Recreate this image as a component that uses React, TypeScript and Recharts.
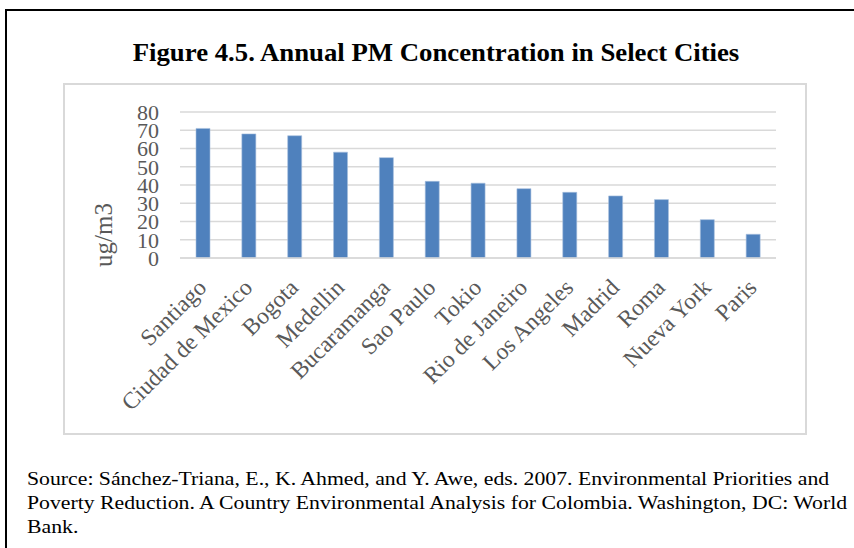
import React from 'react';
import { BarChart, Bar, XAxis, YAxis, CartesianGrid, Label } from 'recharts';

const cities = [
  'Santiago',
  'Ciudad de Mexico',
  'Bogota',
  'Medellin',
  'Bucaramanga',
  'Sao Paulo',
  'Tokio',
  'Rio de Janeiro',
  'Los Angeles',
  'Madrid',
  'Roma',
  'Nueva York',
  'Paris',
];
const pmValues = [71, 68, 67, 58, 55, 42, 41, 38, 36, 34, 32, 21, 13];
const yTicks = [0, 10, 20, 30, 40, 50, 60, 70, 80];

const title = 'Figure 4.5. Annual PM Concentration in Select Cities';
const sourceLines = [
  'Source: Sánchez-Triana, E., K. Ahmed, and Y. Awe, eds. 2007. Environmental Priorities and',
  'Poverty Reduction. A Country Environmental Analysis for Colombia. Washington, DC: World',
  'Bank.',
];

const serif = '"Liberation Serif", "Times New Roman", serif';
const gray = '#595959';

const chartData = cities.map((city, i) => ({ city, pm: pmValues[i] }));

// rotated category labels, anchored at the top right like the original
const CityTick = (props: any) => {
  const { x, y, payload } = props;
  return (
    <g transform={`translate(${x + 5},${y + 31})`}>
      <text
        textAnchor="end"
        transform="rotate(-45)"
        fill={gray}
        fontSize={23.5}
        fontFamily={serif}
      >
        {payload.value}
      </text>
    </g>
  );
};

const App = () => {
  return (
    <div style={{ position: 'absolute', left: 0, top: 0, width: 854, height: 548, overflow: 'hidden', background: '#fff', fontFamily: serif }}>
      {/* outer frame */}
      <div style={{ position: 'absolute', left: 5, top: 9, width: 880, height: 600, border: '2px solid #000' }} />

      <div
        style={{
          position: 'absolute',
          left: 0,
          top: 39,
          width: 872,
          textAlign: 'center',
          fontWeight: 'bold',
          fontSize: 25,
          color: '#000',
          whiteSpace: 'nowrap',
          transform: 'scaleX(1.07)',
          transformOrigin: '436px 0',
        }}
      >
        {title}
      </div>

      {/* chart box */}
      <div style={{ position: 'absolute', left: 63, top: 83, width: 740, height: 348, border: '2px solid #d9d9d9' }}>
        <BarChart width={740} height={348} data={chartData} margin={{ top: 27, right: 29, bottom: 0, left: 0 }} barSize={14}>
          <CartesianGrid vertical={false} stroke="#d9d9d9" strokeWidth={1.5} />
          <XAxis
            dataKey="city"
            interval={0}
            height={175}
            tickSize={0}
            tickMargin={0}
            tickLine={false}
            axisLine={{ stroke: '#d9d9d9', strokeWidth: 1.5 }}
            tick={<CityTick />}
          />
          <YAxis
            width={115}
            domain={[0, 80]}
            ticks={yTicks}
            interval={0}
            tickSize={0}
            tickMargin={21}
            tickLine={false}
            axisLine={false}
            tick={{ fill: gray, fontSize: 22, fontFamily: serif }}
          >
            <Label
              content={() => (
                <text x={38} y={150} transform="rotate(-90 38 150)" textAnchor="middle" dominantBaseline="central" fill={gray} fontSize={25} fontFamily={serif}>
                  ug/m3
                </text>
              )}
            />
          </YAxis>
          <Bar dataKey="pm" fill="#4f81bd" stroke="#a7bfde" strokeWidth={0.6} isAnimationActive={false} />
        </BarChart>
      </div>

      <div
        style={{
          position: 'absolute',
          left: 27,
          top: 467,
          fontSize: 19.5,
          lineHeight: '24px',
          color: '#000',
          whiteSpace: 'nowrap',
          transform: 'scaleX(1.115)',
          transformOrigin: '0 0',
        }}
      >
        {sourceLines.map((line) => (
          <div key={line}>{line}</div>
        ))}
      </div>
    </div>
  );
};

export default App;
